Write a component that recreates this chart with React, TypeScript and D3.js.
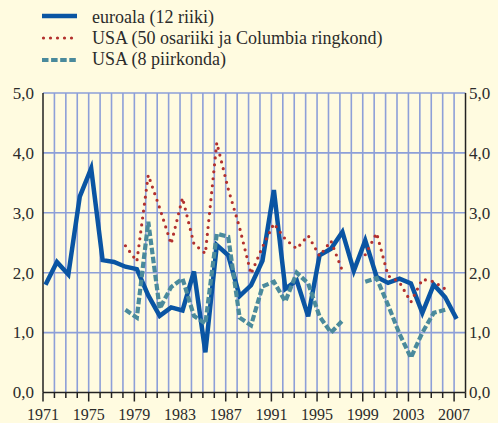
import React from "react";
import * as d3 from "d3";

const years: number[] = d3.range(1971, 2008);

const euroArea: (number | null)[] = [
  1.8, 2.18, 1.97, 3.27, 3.74, 2.21, 2.18, 2.1, 2.06, 1.62,
  1.28, 1.42, 1.37, 2.02, 0.67, 2.46, 2.29, 1.61, 1.79, 2.2,
  3.38, 1.73, 1.87, 1.27, 2.29, 2.4, 2.68, 2.03, 2.54, 1.93,
  1.83, 1.9, 1.82, 1.33, 1.8, 1.59, 1.23,
];

const usa50: (number | null)[] = [
  null, null, null, null, null, null, null, 2.45, 2.19, 3.63,
  3.08, 2.48, 3.25, 2.48, 2.32, 4.17, 3.4, 2.75, 1.98, 2.43,
  2.82, 2.56, 2.4, 2.62, 2.28, 2.53, 2.03, null, 2.3, 2.66,
  1.95, 1.84, 1.51, 1.89, 1.85, 1.73, null,
];

const usa8: (number | null)[] = [
  null, null, null, null, null, null, null, 1.38, 1.25, 2.85,
  1.4, 1.76, 1.9, 1.28, 1.15, 2.65, 2.6, 1.25, 1.12, 1.77,
  1.85, 1.52, 2.0, 1.82, 1.27, 1.0, 1.2, null, 1.85, 1.91,
  1.46, 0.98, 0.58, 1.0, 1.33, 1.38, null,
];

const yTicks: number[] = [0, 1, 2, 3, 4, 5];
const xLabelYears: number[] = [1971, 1975, 1979, 1983, 1987, 1991, 1995, 1999, 2003, 2007];

const legendLabels: string[] = [
  "euroala (12 riiki)",
  "USA (50 osariiki ja Columbia ringkond)",
  "USA (8 piirkonda)",
];

const W = 498;
const H = 423;
const BG = "#fffbe0";
const GRID = "#8d9fd8";
const AXIS = "#222";
const TEXT = "#2b2b2b";
const EURO = "#0a55a3";
const RED = "#b3302d";
const TEAL = "#4a8a9c";
const FONT = '"Liberation Serif"';

export default function App() {
  const x = d3.scaleLinear().domain([1971, 2007]).range([45.5, 456.6]);
  const y = d3.scaleLinear().domain([0, 5]).range([392.5, 93]);
  const gx = (yr: number) => x(yr) - 2.5;
  const left = gx(1971);
  const right = gx(2008);
  const top = y(5);
  const bottom = y(0);

  const mk = (vals: (number | null)[]) =>
    d3
      .line<number>()
      .defined((_, i) => vals[i] != null)
      .x((yr) => x(yr))
      .y((_, i) => y(vals[i] as number))(years) || "";

  const legendStyles = [
    { stroke: EURO, width: 4.5, dash: undefined as string | undefined, cap: "butt" },
    { stroke: RED, width: 3.2, dash: "0 7", cap: "round" },
    { stroke: TEAL, width: 4.2, dash: "6.5 2.6", cap: "butt" },
  ];

  const fmt = (t: number) => d3.format(".1f")(t).replace(".", ",");

  return (
    <svg width={W} height={H} style={{ position: "absolute", left: 0, top: 0 }}>
      <rect x={0} y={0} width={W} height={H} fill={BG} />
      {d3.range(1972, 2008).map((yr) => (
        <line key={"vg" + yr} x1={gx(yr)} x2={gx(yr)} y1={top} y2={bottom} stroke={GRID} strokeWidth={1.6} />
      ))}
      {yTicks.filter((t) => t > 0).map((t) => (
        <line key={"hg" + t} x1={left} x2={right} y1={y(t)} y2={y(t)} stroke={GRID} strokeWidth={1.6} />
      ))}
      <line x1={left} x2={left} y1={top} y2={bottom} stroke={AXIS} strokeWidth={1.5} />
      <line x1={right} x2={right} y1={top} y2={bottom} stroke={AXIS} strokeWidth={1.5} />
      <line x1={left} x2={right} y1={bottom} y2={bottom} stroke={AXIS} strokeWidth={1.5} />
      {d3.range(1971, 2009).map((yr) => (
        <line
          key={"tk" + yr}
          x1={gx(yr)}
          x2={gx(yr)}
          y1={bottom}
          y2={bottom + ((yr - 1971) % 4 === 0 ? 9 : 5.5)}
          stroke={AXIS}
          strokeWidth={1.5}
        />
      ))}
      {yTicks.map((t) => (
        <text key={"yl" + t} x={34} y={y(t) + 5.8} textAnchor="end" fontSize={17} fill={TEXT} style={{ fontFamily: FONT }}>
          {fmt(t)}
        </text>
      ))}
      {yTicks.map((t) => (
        <text key={"yr" + t} x={469} y={y(t) + 5.8} fontSize={17} fill={TEXT} style={{ fontFamily: FONT }}>
          {fmt(t)}
        </text>
      ))}
      {xLabelYears.map((yr) => (
        <text key={"xl" + yr} x={gx(yr)} y={420} textAnchor="middle" fontSize={16} fill={TEXT} style={{ fontFamily: FONT }}>
          {yr}
        </text>
      ))}
      <path d={mk(euroArea)} fill="none" stroke={EURO} strokeWidth={4.5} strokeLinejoin="miter" />
      <path d={mk(usa50)} fill="none" stroke={RED} strokeWidth={3.2} strokeDasharray="0 7" strokeLinecap="round" />
      <path d={mk(usa8)} fill="none" stroke={TEAL} strokeWidth={4.2} strokeDasharray="6.5 2.6" />
      {legendLabels.map((lab, i) => {
        const s = legendStyles[i];
        return (
          <line
            key={"ll" + i}
            x1={i === 1 ? 43.5 : 42}
            x2={77}
            y1={16 + i * 22}
            y2={16 + i * 22}
            stroke={s.stroke}
            strokeWidth={s.width}
            strokeDasharray={s.dash}
            strokeLinecap={s.cap as any}
          />
        );
      })}
      {legendLabels.map((lab, i) => (
        <text key={"lt" + i} x={92} y={23 + i * 21} fontSize={18} fill={TEXT} style={{ fontFamily: FONT }}>
          {lab}
        </text>
      ))}
    </svg>
  );
}
